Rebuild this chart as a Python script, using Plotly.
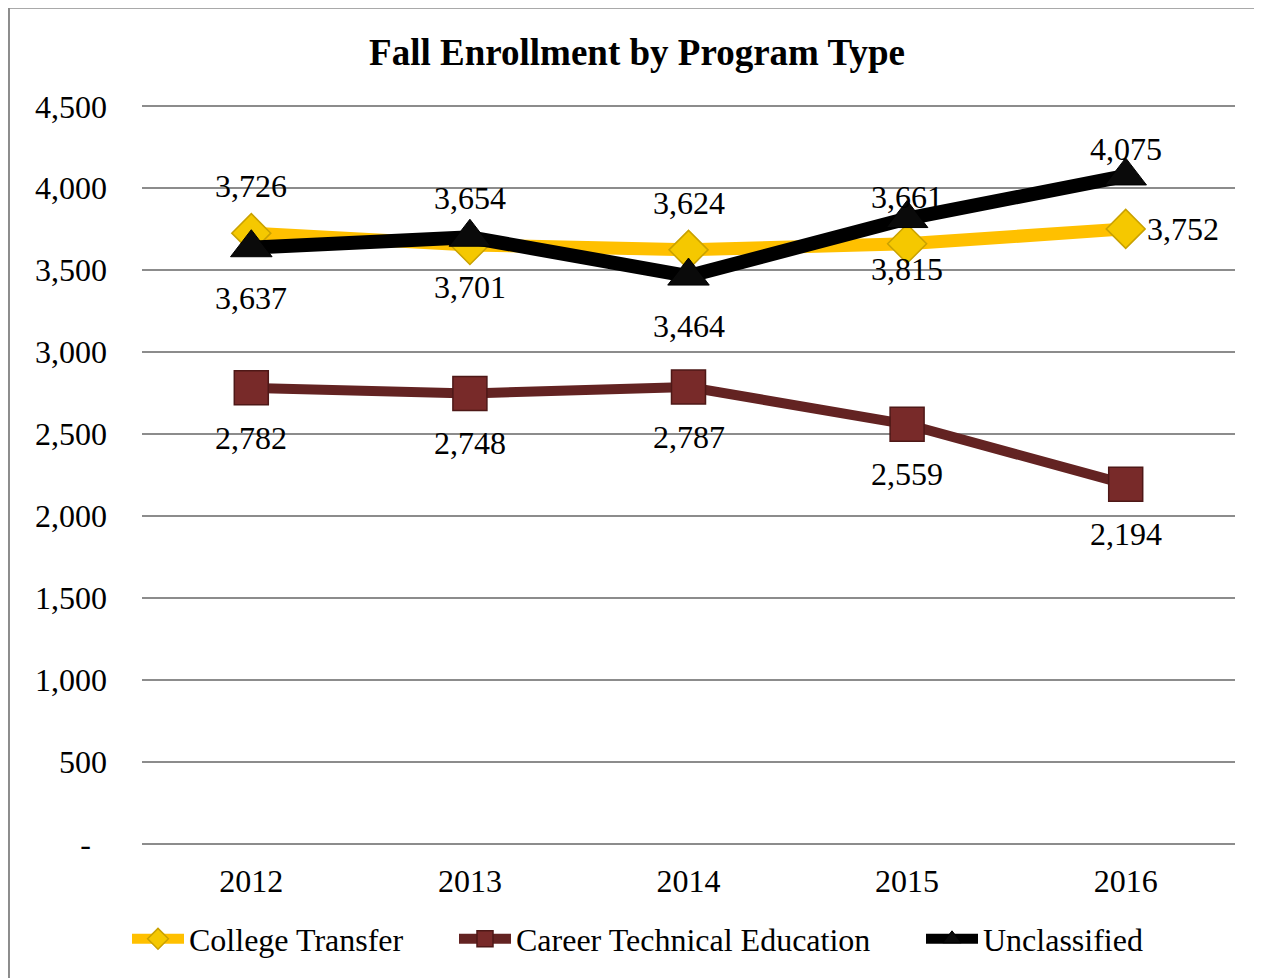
import plotly.graph_objects as go

years = ["2012", "2013", "2014", "2015", "2016"]
college_transfer = [3726, 3654, 3624, 3661, 3752]
career_technical = [2782, 2748, 2787, 2559, 2194]
unclassified = [3637, 3701, 3464, 3815, 4075]

y_tickvals = [0, 500, 1000, 1500, 2000, 2500, 3000, 3500, 4000, 4500]
y_ticktext = ["-&nbsp;&nbsp;", "500", "1,000", "1,500", "2,000", "2,500",
              "3,000", "3,500", "4,000", "4,500"]

ct_label_pos = ["above", "above", "above", "above", "right"]
cte_label_pos = ["below"] * 5
unc_label_pos = ["below", "below", "below", "below", "above_near"]

FONT = "Liberation Serif, Times New Roman, serif"
FS = 32

fig = go.Figure()
fig.add_trace(go.Scatter(
    x=years, y=college_transfer, name="College Transfer", mode="lines+markers",
    line=dict(color="#FFC000", width=13),
    marker=dict(symbol="diamond", size=30, color="#F5C800",
                line=dict(color="#C9A100", width=1.5)),
    legend="legend",
))
fig.add_trace(go.Scatter(
    x=years, y=career_technical, name="Career Technical Education", mode="lines+markers",
    line=dict(color="#632322", width=10),
    marker=dict(symbol="square", size=34, color="#782A29",
                line=dict(color="#4E1817", width=1.5)),
    legend="legend2",
))
fig.add_trace(go.Scatter(
    x=years, y=unclassified, name="Unclassified", mode="lines+markers",
    line=dict(color="#000000", width=14),
    marker=dict(symbol="triangle-up", size=36, color="#0A0A0A",
                line=dict(color="#000000", width=1)),
    legend="legend3",
))

shift = {"above": (0, 47), "below": (0, -50), "right": (57, 0), "above_near": (0, 27)}
annotations = []
for vals, poss in [(college_transfer, ct_label_pos), (career_technical, cte_label_pos),
                   (unclassified, unc_label_pos)]:
    for i, (yv, p) in enumerate(zip(vals, poss)):
        dx, dy = shift[p]
        annotations.append(dict(
            x=i, y=yv, xref="x", yref="y", text=f"{yv:,}", showarrow=False,
            xshift=dx, yshift=dy, xanchor="center", yanchor="middle",
            font=dict(family=FONT, size=FS, color="#000000"),
        ))

W, H = 1254, 970
leg_common = dict(orientation="h", xref="container", yref="container", xanchor="left",
                  y=1 - 931 / H, yanchor="middle", font=dict(family=FONT, size=FS),
                  itemwidth=52, bgcolor="rgba(0,0,0,0)")

fig.update_layout(
    width=W, height=H,
    margin=dict(l=134, r=27, t=97, b=133),
    paper_bgcolor="white", plot_bgcolor="white",
    title=dict(text="<b>Fall Enrollment by Program Type</b>", x=629 / W, xanchor="center",
               xref="container", y=1 - 44 / H, yref="container", yanchor="middle",
               font=dict(family=FONT, size=37, color="#000000")),
    font=dict(family=FONT, size=FS, color="#000000"),
    xaxis=dict(type="category", showgrid=False, showline=False, zeroline=False, ticks="",
               tickfont=dict(family=FONT, size=FS), range=[-0.5, 4.5],
               ticklabelstandoff=14),
    yaxis=dict(range=[-8, 4508], tickvals=y_tickvals, ticktext=y_ticktext,
               showgrid=True, gridcolor="#8C8C8C", gridwidth=2, zeroline=False,
               showline=False, ticks="", ticklabelstandoff=34,
               tickfont=dict(family=FONT, size=FS)),
    showlegend=True,
    legend=dict(x=119 / W, **leg_common),
    legend2=dict(x=446 / W, **leg_common),
    legend3=dict(x=913 / W, **leg_common),
    annotations=annotations,
    shapes=[
        dict(type="line", xref="paper", yref="paper", x0=-0.1217, x1=1.2, y0=1.1314, y1=1.1314,
             line=dict(color="#8C8C8C", width=2)),
        dict(type="line", xref="paper", yref="paper", x0=-0.1217, x1=-0.1217, y0=1.1314, y1=-0.3,
             line=dict(color="#8C8C8C", width=2)),
    ],
)
fig.write_html("out.html")
